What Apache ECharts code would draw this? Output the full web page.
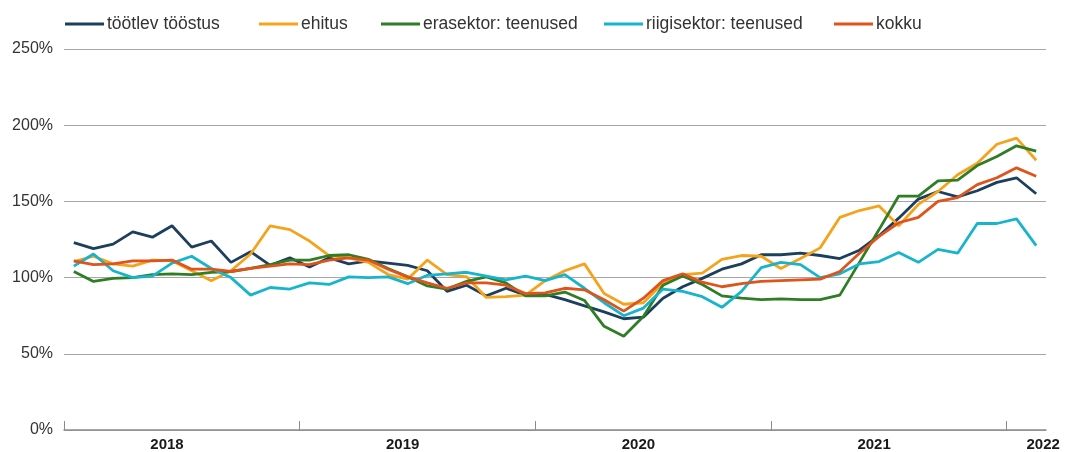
<!DOCTYPE html>
<html>
<head>
<meta charset="utf-8">
<script src="https://cdn.jsdelivr.net/npm/echarts@6/dist/echarts.min.js"></script>
<style>
    html, body { margin: 0; padding: 0; background: #fff; }
    #chart { width: 1066px; height: 452px; }
</style>
</head>
<body>
<div id="chart"></div>
<script>
// kuud 2018-01 ... 2022-02
var months = [];
for (var y = 2018; y <= 2022; y++) {
    for (var m = 1; m <= 12; m++) {
        if (y === 2022 && m > 2) break;
        months.push(y + '-' + (m < 10 ? '0' + m : m));
    }
}

// aasta piirid (jaanuari algus) ja aasta sildid
var yearTicks = [-0.5, 11.5, 23.5, 35.5, 47.5];
var yearLabelIdx = [5, 17, 29, 41, 49];

var tootlev = [123, 119, 122, 130, 126.5, 134, 120, 124, 110, 117, 108, 113,
    107, 113, 109, 111, 109.5, 108, 104.5, 91, 95, 88, 93, 88.5,
    89, 85.5, 81.5, 77.5, 73, 74, 86.5, 94, 99.5, 105.5, 109, 115,
    115, 116, 114.5, 112.5, 118, 127.5, 139, 151.5, 156.5, 153, 157, 162.5,
    165.5, 155];

var ehitus = [110.5, 114, 109, 107.5, 111.5, 111, 104.5, 98, 104.5, 115.5, 134, 131.5,
    124, 114.5, 113, 110, 102, 99, 111.5, 102, 100.5, 87, 87.5, 88.5,
    98, 104.5, 109, 89.5, 82.5, 83.5, 96.5, 102, 103, 112, 114.5, 114,
    106, 112.5, 119.5, 139.5, 144, 147, 134, 148, 156.5, 167.5, 175, 187.5,
    191.5, 177];

var erasektor = [104, 97.5, 99.5, 100, 102, 102.5, 102, 103.5, 104, 106, 108.5, 111.5,
    111.5, 114.5, 115, 112, 106, 100.5, 94.5, 92.5, 97.5, 100.5, 96.5, 88,
    88, 90.5, 85, 68, 61.5, 74.5, 95, 101, 95.5, 88, 86.5, 85.5,
    86, 85.5, 85.5, 88.5, 110, 131.5, 153.5, 153.5, 163.5, 164, 173.5, 179.5,
    186.5, 183];

var riigisektor = [107.5, 115.5, 104.5, 100, 101, 109.5, 114, 106, 100, 88.5, 93.5, 92.5,
    96.5, 95.5, 100.5, 100, 100.5, 96, 101.5, 102.5, 103.5, 101, 98.5, 101,
    98, 102, 93, 83.5, 75, 80, 92.5, 91, 87.5, 80.5, 91, 106.5,
    110, 108.5, 100, 102.5, 109, 110.5, 116.5, 110, 118.5, 116, 135.5, 135.5,
    138.5, 121];

var kokku = [111, 108.5, 109, 111, 111, 111.5, 105.5, 105.5, 104, 106, 107.5, 109,
    108.5, 111.5, 113, 111.5, 105.5, 100.5, 96.5, 93, 96.5, 96.5, 95, 89.5,
    90, 93, 92, 85.5, 78, 86.5, 98, 102.5, 97, 94, 96, 97.5,
    98, 98.5, 99, 104, 116, 127, 136, 139.5, 150, 152.5, 161, 165.5,
    172, 166.5];

var seriesList = [
    { name: 'töötlev tööstus', data: tootlev, color: '#1c3f5e' },
    { name: 'ehitus', data: ehitus, color: '#f5a31d' },
    { name: 'erasektor: teenused', data: erasektor, color: '#2f7d25' },
    { name: 'riigisektor: teenused', data: riigisektor, color: '#17b5cc' },
    { name: 'kokku', data: kokku, color: '#e0531b' }
];

// legendi kirjete vasak serv
var legendLeft = [65, 259, 381, 604, 834];

var font = '"Liberation Sans", Arial, Helvetica, sans-serif';

var chart = echarts.init(document.getElementById('chart'));
chart.setOption({
    animation: false,
    textStyle: { fontFamily: font },
    grid: {
        left: 64,
        right: 20,
        top: 49,
        bottom: 21,
        containLabel: false
    },
    legend: seriesList.map(function (s, i) {
        return {
            left: legendLeft[i],
            top: 15,
            padding: 0,
            icon: 'rect',
            itemWidth: 39,
            itemHeight: 3,
            textStyle: { fontSize: 17.5, color: '#333', fontFamily: font, padding: [0, 0, 0, -2] },
            data: [s.name]
        };
    }),
    xAxis: {
        type: 'value',
        min: -0.5,
        max: months.length - 0.5,
        splitLine: { show: false },
        axisLine: { show: true, onZero: false, lineStyle: { color: '#8c8c8c', width: 1.5 } },
        axisTick: {
            show: true,
            inside: true,
            length: 9,
            customValues: yearTicks,
            lineStyle: { color: '#8c8c8c', width: 1 }
        },
        axisLabel: {
            margin: 7,
            customValues: yearLabelIdx,
            formatter: function (value) {
                var yr = months[Math.round(value)].slice(0, 4);
                if (Math.round(value) === months.length - 1) return '{last|' + yr + '}';
                return '{yr|' + yr + '}';
            },
            rich: {
                yr: { fontSize: 15, fontWeight: 'bold', color: '#1a1a1a', fontFamily: font, padding: [0, 10, 0, 0] },
                last: { fontSize: 15, fontWeight: 'bold', color: '#1a1a1a', fontFamily: font, padding: [0, 0, 0, 14] }
            }
        }
    },
    yAxis: {
        type: 'value',
        min: 0,
        max: 250,
        interval: 50,
        axisLine: { show: false },
        axisTick: { show: false },
        axisLabel: {
            margin: 11,
            fontSize: 16,
            color: '#333',
            formatter: '{value}%'
        },
        splitLine: { lineStyle: { color: '#a6a6a6', width: 1.2 } }
    },
    series: seriesList.map(function (s) {
        return {
            name: s.name,
            type: 'line',
            data: s.data.map(function (v, i) { return [i, v]; }),
            showSymbol: false,
            symbol: 'none',
            color: s.color,
            lineStyle: { color: s.color, width: 2.8 }
        };
    })
});
</script>
</body>
</html>
